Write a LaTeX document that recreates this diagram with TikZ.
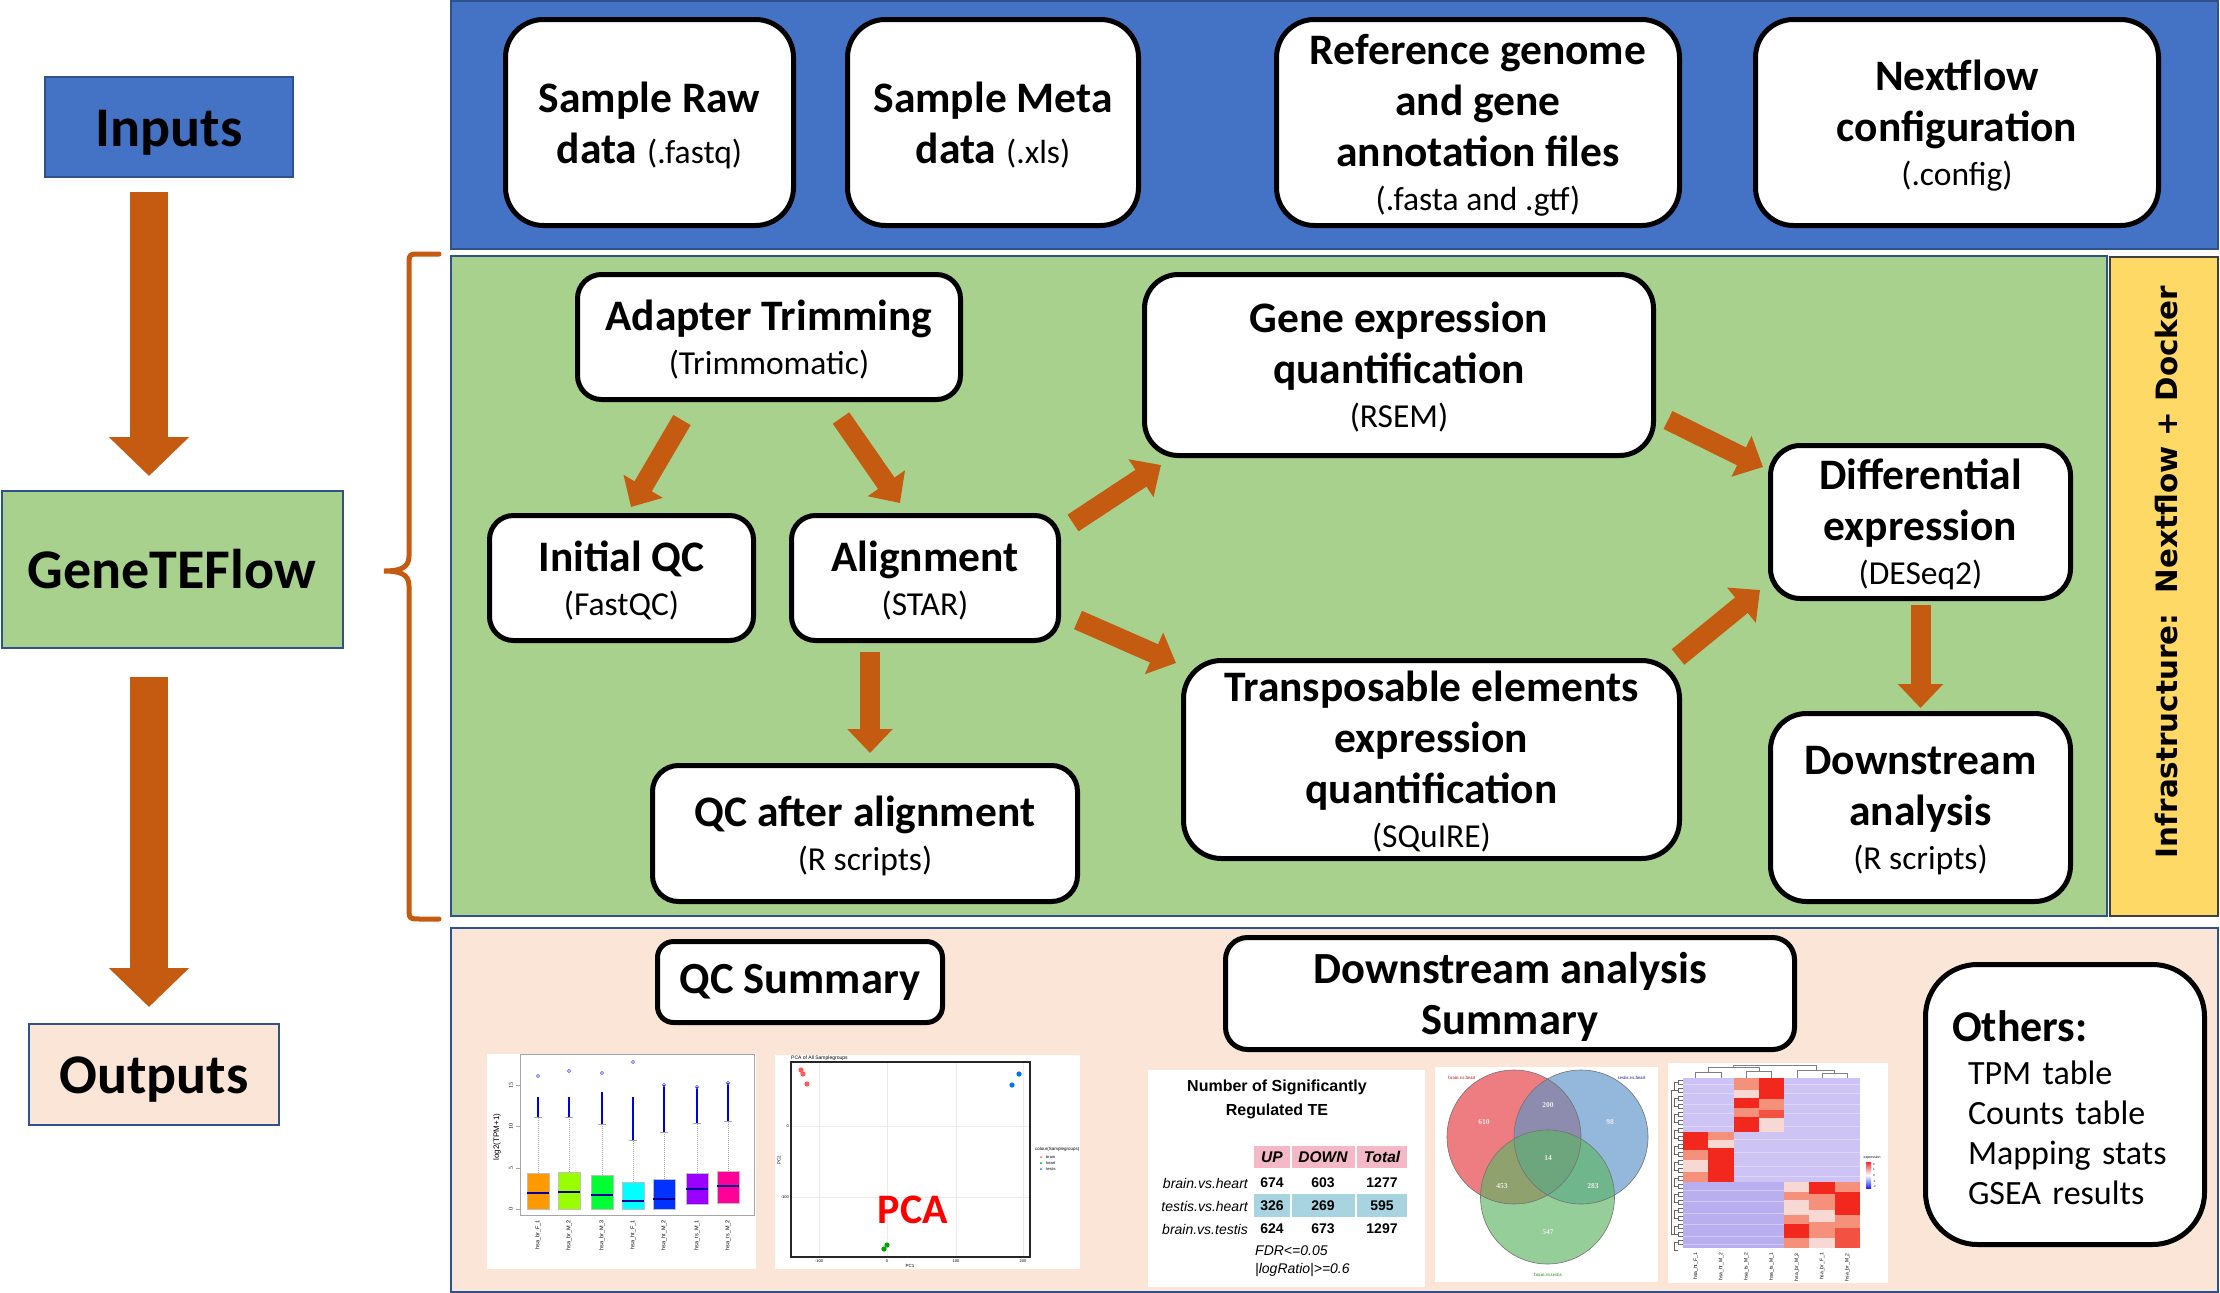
\documentclass[tikz,border=0pt]{standalone}
\usepackage{fontspec}
\setmainfont{Carlito}
\newfontfamily\infrafont{DejaVu Sans}
\newfontfamily\tablefont{Liberation Sans}
\newfontfamily\plotfont{Liberation Serif}
\usetikzlibrary{arrows.meta, calc}

\definecolor{panelblue}{HTML}{4472C4}
\definecolor{edgeblue}{HTML}{2F528F}
\definecolor{panelgreen}{HTML}{A9D18E}
\definecolor{panelyellow}{HTML}{FFD966}
\definecolor{panelpeach}{HTML}{FBE5D6}
\definecolor{flowc}{HTML}{C55A11}
\definecolor{bxa}{HTML}{FF9900}
\definecolor{bxb}{HTML}{99FF00}
\definecolor{bxc}{HTML}{00FF33}
\definecolor{bxd}{HTML}{00FFFF}
\definecolor{bxe}{HTML}{0033FF}
\definecolor{bxf}{HTML}{9900FF}
\definecolor{bxg}{HTML}{FF0099}
\definecolor{tabpink}{HTML}{F4B8C6}
\definecolor{tabblue}{HTML}{A8D4E2}
\definecolor{vred}{HTML}{E6474B}
\definecolor{vblue}{HTML}{5A93C8}
\definecolor{vgreen}{HTML}{5DB562}
\definecolor{hmlav}{HTML}{CDC3F5}
\definecolor{hmlavd}{HTML}{B8AEF0}
\definecolor{hmred}{HTML}{F2281E}
\definecolor{hmsalmon}{HTML}{F5907A}
\definecolor{hmpale}{HTML}{F8D8D2}

\begin{document}
\begin{tikzpicture}[x=1pt, y=-1pt,
    box/.style={draw=black, fill=white, line width=5pt, inner sep=0pt, align=center,
                font=\fontsize{43.5}{51}\selectfont\bfseries},
    procbox/.style={box, text depth=0pt},
    sidebox/.style={draw=edgeblue, line width=2pt, inner sep=0pt, text height=38pt, text depth=0pt,
                    font=\fontsize{56}{60}\selectfont\bfseries},
    panel/.style={draw=edgeblue, line width=2pt},
    flow/.style={draw=flowc, line width=20pt, -{Triangle[width=44pt, length=24pt]}},
    bigflow/.style={draw=flowc, line width=38pt, -{Triangle[width=78pt, length=39pt]}},
    plottext/.style={inner sep=0pt, font=\plotfont\fontsize{6}{7}\selectfont},
    tabtext/.style={inner sep=0pt, font=\tablefont\fontsize{14}{16}\selectfont}]

    \useasboundingbox (0,0) rectangle (2220,1293);

    % sottotitolo dei box (strumento / formato)
    \def\subt#1{{\fontsize{33.5}{38}\selectfont\mdseries #1}}

    % -- Pannelli di sfondo --
    \draw[panel, fill=panelblue] (451,1) rectangle (2218,249);
    \draw[panel, fill=panelgreen] (451,256) rectangle (2107,916);
    \draw[draw=black!75, line width=2pt, fill=panelyellow] (2110,257) rectangle (2218,916);
    \draw[panel, fill=panelpeach] (451,928) rectangle (2218,1292);

    % -- Colonna sinistra: Inputs / GeneTEFlow / Outputs --
    \node[sidebox, fill=panelblue, minimum width=248pt, minimum height=100pt] (inputs) at (169,127) {Inputs};
    \node[sidebox, fill=panelgreen, minimum width=341pt, minimum height=157pt] (gtf) at (172,569.5) {GeneTEFlow};
    \node[sidebox, fill=panelpeach, minimum width=250pt, minimum height=101pt] (outputs) at (154,1074.5) {Outputs};

    \draw[bigflow] ($(inputs.south)+(-20,14)$) -- ($(inputs.south |- gtf.north)+(-20,-14)$);
    \draw[bigflow] ($(gtf.south)+(-23,28)$) -- ($(gtf.south |- outputs.north)+(-23,-16)$);

    % graffa
    \draw[flowc, line width=5pt, line cap=round]
        (439,254) -- (421,254) .. controls (409,254) and (409,254) .. (409,266)
        -- (409,556) .. controls (409,568) and (400,571) .. (384,571)
        .. controls (400,571) and (409,574) .. (409,586)
        -- (409,907) .. controls (409,919) and (409,919) .. (421,919) -- (439,919);

    % -- Inputs (pannello blu) --
    \node[procbox, minimum width=288pt, minimum height=206pt, rounded corners=38pt] (raw) at (649.5,122.5)
        {Sample Raw\\data \subt{(.fastq)}};
    \node[procbox, minimum width=291pt, minimum height=206pt, rounded corners=38pt] (meta) at (993,122.5)
        {Sample Meta\\data \subt{(.xls)}};
    \node[procbox, minimum width=403pt, minimum height=206pt, rounded corners=38pt] (ref) at (1478,122.5)
        {Reference genome\\and gene\\annotation files\\[-7pt]\subt{(.fasta and .gtf)}};
    \node[procbox, minimum width=403pt, minimum height=206pt, rounded corners=38pt] (nxf) at (1957,122.5)
        {Nextflow\\configuration\\[-7pt]\subt{(.config)}};

    % -- Pipeline (pannello verde) --
    \node[procbox, minimum width=383pt, minimum height=125pt, rounded corners=24pt] (trim) at (769,337)
        {Adapter Trimming\\[-7pt]\subt{(Trimmomatic)}};
    \node[procbox, minimum width=264pt, minimum height=125pt, rounded corners=24pt] (iqc) at (621.5,578)
        {Initial QC\\[-7pt]\subt{(FastQC)}};
    \node[procbox, minimum width=267pt, minimum height=125pt, rounded corners=24pt] (aln) at (925,578)
        {Alignment\\[-7pt]\subt{(STAR)}};
    \node[procbox, minimum width=509pt, minimum height=181pt, rounded corners=34pt] (gexp) at (1399,365)
        {Gene expression\\quantification\\[-7pt]\subt{(RSEM)}};
    \node[procbox, minimum width=300pt, minimum height=153pt, rounded corners=30pt] (dexp) at (1920.5,522)
        {Differential\\expression\\[-7pt]\subt{(DESeq2)}};
    \node[procbox, minimum width=496pt, minimum height=198pt, rounded corners=38pt] (teq) at (1431.5,759.5)
        {Transposable elements\\expression\\quantification\\[-7pt]\subt{(SQuIRE)}};
    \node[procbox, minimum width=425pt, minimum height=136pt, rounded corners=26pt] (qca) at (865,833.5)
        {QC after alignment\\[-7pt]\subt{(R scripts)}};
    \node[procbox, minimum width=300pt, minimum height=188pt, rounded corners=36pt] (dsa) at (1920.5,807.5)
        {Downstream\\analysis\\[-7pt]\subt{(R scripts)}};

    \node[rotate=90, inner sep=0pt, font=\infrafont\fontsize{29.4}{32}\selectfont\bfseries] (infra) at (2167,572)
        {Infrastructure:~~Nextflow + Docker};

    % frecce del flusso
    \draw[flow] ($(trim.south)+(-87,18)$) -- ($(iqc.north)+(9.5,-6)$);
    \draw[flow] ($(trim.south)+(72,16)$) -- ($(aln.north)+(-25,-10)$);
    \draw[flow] ($(aln.east)+(12,-55)$) -- ($(gexp.south west)+(19,7)$);
    \draw[flow] ($(aln.east)+(17,42)$) -- ($(teq.north west)+(-5,5)$);
    \draw[flow] ($(aln.south)+(-55,9)$) -- ($(qca.north)+(5,-10)$);
    \draw[flow] ($(gexp.east)+(12,55)$) -- ($(dexp.west)+(-5,-55)$);
    \draw[flow] ($(teq.north east)+(-4,-1)$) -- ($(dexp.west)+(-8,68)$);
    \draw[flow] ($(dexp.south)+(0,4)$) -- ($(dsa.north)+(0,-3)$);

    % -- Outputs (pannello rosa) --
    \node[box, minimum width=285pt, minimum height=81pt, rounded corners=16pt,
          font=\fontsize{44.5}{51}\selectfont\bfseries] (qcs) at (800,982)
        {QC Summary};
    \node[procbox, minimum width=569pt, minimum height=112pt, rounded corners=22pt,
          font=\fontsize{44.5}{51}\selectfont\bfseries] (dss) at (1510,993.5)
        {Downstream analysis\\Summary};
    \node[box, minimum width=279pt, minimum height=280pt, rounded corners=52pt, align=left,
          text width=255pt, font=\fontsize{34}{40}\selectfont] (oth) at (2065,1104.5)
        {\hspace*{14.5pt}{\fontsize{44}{44}\selectfont\bfseries Others:}\rule{0pt}{37pt}\\[3pt]
         \hspace*{30.5pt}TPM table\\\hspace*{30.5pt}Counts table\\
         \hspace*{30.5pt}Mapping stats\\\hspace*{30.5pt}GSEA results};

    % boxplot: x, top, bottom, mediana, baffo, colore, outlier fitti, outlier estremo
    \def\bxp#1#2#3#4#5#6#7#8{%
        \draw[gray!70, densely dotted, line width=1pt] (#1,#2) -- (#1,#5);
        \draw[gray!70, line width=1pt] (#1-4,#5) -- (#1+4,#5);
        \draw[blue!85!black, line width=2.6pt] (#1,#5) -- (#1,#7);
        \draw[blue!60, line width=0.6pt] (#1,#8) circle (1.6pt);
        \fill[#6] (#1-11,#2) rectangle (#1+11,#3);
        \draw[gray!50, line width=0.6pt] (#1-11,#2) rectangle (#1+11,#3);
        \draw[blue!60!black, line width=1.5pt] (#1-11,#4) -- (#1+11,#4);%
    }
    \fill[white] (487,1054) rectangle (756,1269);
    \draw[gray!70, line width=1pt] (520,1054) rectangle (754,1215);
    \foreach \ty/\tl in {1209/0, 1168/5, 1126/10, 1085/15} {
        \draw[gray!70] (516,\ty) -- (520,\ty);
        \node[plottext, rotate=90] at (511,\ty) {\tl};
    }
    \node[plottext, rotate=90, font=\tablefont\fontsize{8}{8}\selectfont] at (497,1137) {log2(TPM+1)};
    \bxp{538}{1173}{1209}{1193}{1117}{bxa}{1097}{1076}
    \bxp{569}{1172}{1209}{1192}{1117}{bxb}{1097}{1071}
    \bxp{602}{1175}{1209}{1195}{1124}{bxc}{1092}{1073}
    \bxp{633}{1182}{1209}{1201}{1140}{bxd}{1097}{1062}
    \bxp{664}{1179}{1209}{1199}{1132}{bxe}{1085}{1085}
    \bxp{697}{1173}{1204}{1189}{1123}{bxf}{1087}{1087}
    \bxp{728}{1171}{1203}{1186}{1121}{bxg}{1083}{1083}
    \foreach \bx/\bl in {538/hsa\_br\_F\_1, 569/hsa\_br\_M\_2, 602/hsa\_br\_M\_3, 633/hsa\_ht\_F\_1,
                         664/hsa\_ht\_M\_2, 697/hsa\_ts\_M\_1, 728/hsa\_ts\_M\_2}
        \node[plottext, rotate=90, anchor=east, font=\tablefont\fontsize{5.5}{6}\selectfont] at (\bx,1220) {\bl};

    % PCA
    \fill[white] (775,1055) rectangle (1080,1269);
    \foreach \gy in {1126,1197} \draw[black!8, line width=.8pt] (791,\gy) -- (1030,\gy);
    \foreach \gx in {819,887,956,1023} \draw[black!8, line width=.8pt] (\gx,1062) -- (\gx,1257);
    \draw[black!85, line width=1.8pt] (791,1062) rectangle (1030,1257);
    \foreach \px/\py in {801/1070, 803/1074, 807/1084} \fill[red!65] (\px,\py) circle (2.6pt);
    \foreach \px/\py in {1019/1074, 1012/1085} \fill[blue!55!cyan] (\px,\py) circle (2.6pt);
    \foreach \px/\py in {887/1245, 884/1249} \fill[green!65!black] (\px,\py) circle (2.6pt);
    \node[plottext, anchor=south west, font=\tablefont\fontsize{5}{5}\selectfont] at (791,1061) {PCA of All Samplegroups};
    \node[plottext, font=\tablefont\fontsize{4.5}{5}\selectfont] at (910,1266) {PC1};
    \node[plottext, rotate=90, font=\tablefont\fontsize{4.5}{5}\selectfont] at (779,1160) {PC2};
    \foreach \gx/\gl in {819/-100, 887/0, 956/100, 1023/200}
        \node[plottext, font=\tablefont\fontsize{4}{4}\selectfont] at (\gx,1261) {\gl};
    \node[plottext, anchor=east, font=\tablefont\fontsize{4}{4}\selectfont] at (789,1126) {0};
    \node[plottext, anchor=east, font=\tablefont\fontsize{4}{4}\selectfont] at (789,1197) {-100};
    \node[plottext, anchor=west, font=\tablefont\fontsize{4.5}{5}\selectfont] at (1035,1149) {colour(Samplegroups)};
    \foreach \ly/\lc/\ll in {1157/red!65/brain, 1163/green!65!black/heart, 1169/blue!55!cyan/testis} {
        \fill[\lc] (1041,\ly) circle (1pt);
        \node[plottext, anchor=west, font=\tablefont\fontsize{4}{4}\selectfont] at (1046,\ly) {\ll};
    }
    \node[text=red, inner sep=0pt, font=\fontsize{42}{42}\selectfont\bfseries] (pcatag) at (913,1210) {PCA};

    % tabella dei TE regolati
    \fill[white] (1148,1070) rectangle (1425,1287);
    \node[tabtext, align=center, font=\tablefont\fontsize{16}{24}\selectfont\bfseries] (tabtitle) at (1277,1099)
        {Number of Significantly\\Regulated TE};
    \foreach \ca/\cb in {1254/1290, 1292/1355, 1357/1407} {
        \fill[tabpink] (\ca,1146) rectangle (\cb,1168);
        \fill[tabblue] (\ca,1194) rectangle (\cb,1217);
    }
    \foreach \cx/\ct in {1272/UP, 1323/DOWN, 1382/Total}
        \node[tabtext, font=\tablefont\fontsize{15.5}{16}\selectfont\bfseries\itshape] at (\cx,1157) {\ct};
    \foreach \ry/\rl/\va/\vb/\vc in {1183/brain.vs.heart/674/603/1277,
                                    1206/testis.vs.heart/326/269/595,
                                    1229/brain.vs.testis/624/673/1297} {
        \node[tabtext, anchor=east, font=\tablefont\fontsize{14}{16}\selectfont\itshape] at (1248,\ry) {\rl};
        \node[tabtext, font=\tablefont\fontsize{14}{16}\selectfont\bfseries] at (1272,\ry) {\va};
        \node[tabtext, font=\tablefont\fontsize{14}{16}\selectfont\bfseries] at (1323,\ry) {\vb};
        \node[tabtext, font=\tablefont\fontsize{14}{16}\selectfont\bfseries] at (1382,\ry) {\vc};
    }
    \node[tabtext, anchor=west, font=\tablefont\fontsize{14}{16}\selectfont\itshape] at (1255,1251) {FDR<=0.05};
    \node[tabtext, anchor=west, font=\tablefont\fontsize{14}{16}\selectfont\itshape] at (1255,1270) {|logRatio|>=0.6};

    % diagramma di Venn
    \fill[white] (1435,1067) rectangle (1658,1282);
    \fill[vred, fill opacity=.7] (1514,1137) circle (67pt);
    \fill[vblue, fill opacity=.65] (1581,1137) circle (67pt);
    \fill[vgreen, fill opacity=.65] (1547.5,1197) circle (67pt);
    \foreach \vx/\vy in {1514/1137, 1581/1137, 1547.5/1197}
        \draw[black!55, line width=.6pt] (\vx,\vy) circle (67pt);
    \foreach \nx/\ny/\nl in {1484/1122/610, 1548/1105/200, 1610/1122/98, 1548/1158/14,
                             1502/1186/453, 1593/1186/283, 1548/1232/547}
        \node[plottext, text=white!92!black, font=\plotfont\fontsize{7.5}{8}\selectfont\bfseries] at (\nx,\ny) {\nl};
    \node[plottext, text=red!70!black, font=\plotfont\fontsize{5}{5}\selectfont] at (1462,1078) {brain.vs.heart};
    \node[plottext, text=blue!60!black, font=\plotfont\fontsize{5}{5}\selectfont] at (1632,1078) {testis.vs.heart};
    \node[plottext, text=green!50!black, font=\plotfont\fontsize{5}{5}\selectfont] at (1548,1275) {brain.vs.testis};

    % heatmap
    \fill[white] (1668,1063) rectangle (1888,1283);
    \fill[hmlav] (1683,1078) rectangle (1860,1248);
    \fill[hmlavd] (1683,1182) rectangle (1784.1,1248);
    \foreach \yy in {1084,1093,1104,1113,1126,1139,1152,1166,1176,1190,1201,1213,1224,1236,1244}
        \draw[white, opacity=.35, line width=1pt] (1683,\yy) -- (1860,\yy);
    \foreach \xa/\ya/\yb/\cc in {
        1733.6/1078/1090/hmsalmon, 1733.6/1090/1098/hmpale, 1733.6/1098/1108/hmred,
        1733.6/1108/1117/hmsalmon, 1733.6/1117/1132/hmred,
        1758.9/1078/1099/hmred, 1758.9/1099/1110/hmsalmon, 1758.9/1110/1118/hmred!60!hmsalmon,
        1758.9/1118/1132/hmpale,
        1683/1132/1150/hmred, 1683/1150/1160/hmsalmon, 1683/1160/1172/hmpale, 1683/1172/1182/hmsalmon,
        1708.3/1132/1140/hmsalmon, 1708.3/1140/1148/hmpale, 1708.3/1148/1182/hmred,
        1784.1/1182/1192/hmpale, 1784.1/1192/1200/hmsalmon, 1784.1/1200/1215/hmpale,
        1784.1/1215/1224/hmsalmon, 1784.1/1224/1238/hmred, 1784.1/1238/1248/hmsalmon,
        1809.4/1182/1194/hmred, 1809.4/1194/1210/hmsalmon, 1809.4/1210/1222/hmpale,
        1809.4/1222/1238/hmsalmon, 1809.4/1238/1248/hmpale,
        1834.7/1182/1192/hmsalmon, 1834.7/1192/1215/hmred, 1834.7/1215/1228/hmsalmon,
        1834.7/1228/1248/hmred!60!hmsalmon}
        \fill[\cc] (\xa,\ya) rectangle (\xa+25.3,\yb);
    % dendrogrammi
    \draw[gray, line width=.6pt] (1695.7,1078) |- (1721,1072) -- (1721,1078);
    \draw[gray, line width=.6pt] (1746.3,1078) |- (1771.5,1071) -- (1771.5,1078);
    \draw[gray, line width=.6pt] (1708.3,1072) |- (1758.9,1067) -- (1758.9,1071);
    \draw[gray, line width=.6pt] (1822,1078) |- (1847.4,1073) -- (1847.4,1078);
    \draw[gray, line width=.6pt] (1796.8,1078) |- (1834.7,1070) -- (1834.7,1073);
    \draw[gray, line width=.6pt] (1733.6,1067) |- (1815.8,1065) -- (1815.8,1070);
    \foreach \yy in {1080,1088,...,1244}
        \draw[gray!80!black, line width=.4pt] (1683,\yy) -- (1678,\yy) -- (1678,\yy+4) -- (1683,\yy+4);
    \foreach \yy in {1082,1098,...,1242}
        \draw[gray!80!black, line width=.4pt] (1678,\yy) -- (1674,\yy) -- (1674,\yy+8) -- (1678,\yy+8);
    \draw[gray!80!black, line width=.4pt] (1674,1090) -- (1671,1090) -- (1671,1234) -- (1674,1234);
    % legenda
    \node[plottext, font=\tablefont\fontsize{3.5}{4}\selectfont] at (1872,1158) {expression};
    \shade[top color=red!85, bottom color=blue!85, middle color=white] (1866,1162) rectangle (1871,1188);
    \foreach \ey/\el in {1164/2, 1169/1, 1175/0, 1181/-1, 1186/-2}
        \node[plottext, anchor=west, font=\tablefont\fontsize{3}{3}\selectfont] at (1873,\ey) {\el};
    \foreach \hx/\hl in {1695.7/hsa\_ht\_F\_1, 1721/hsa\_ht\_M\_2, 1746.3/hsa\_ts\_M\_2, 1771.5/hsa\_ts\_M\_1,
                         1796.8/hsa\_br\_M\_3, 1822/hsa\_br\_F\_1, 1847.4/hsa\_br\_M\_2}
        \node[plottext, rotate=90, anchor=east, font=\tablefont\fontsize{5}{5}\selectfont] at (\hx,1253) {\hl};
\end{tikzpicture}
\end{document}
